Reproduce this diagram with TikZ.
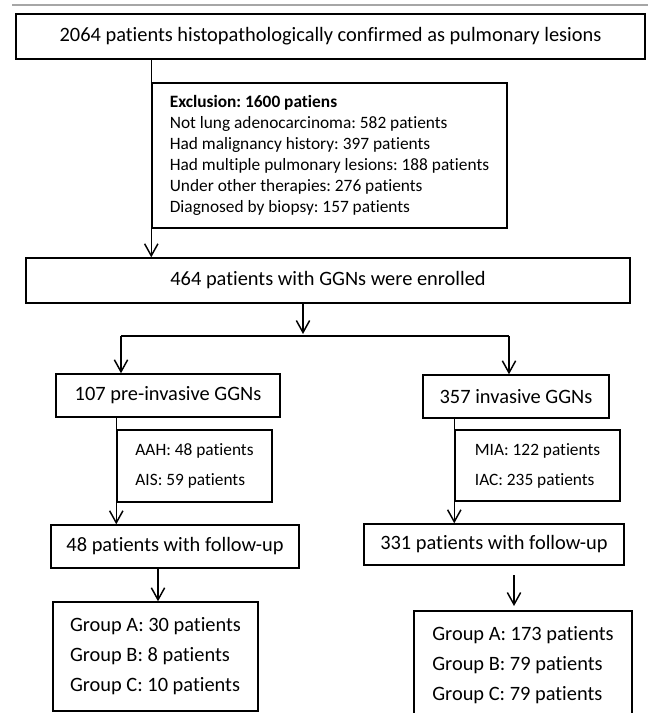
\documentclass[tikz,border=0pt]{standalone}
\usepackage{fontspec}
\setmainfont{Carlito}[Ligatures={NoCommon}]
\usetikzlibrary{arrows.meta}
\frenchspacing
\tikzset{
  boxsz/.style 2 args={minimum width=#1*0.75pt, minimum height=#2*0.75pt},
  boxstyle/.style={draw=black, line width=1.1pt, inner sep=0pt, font=\fontsize{15.3}{18}\selectfont},
  listbox/.style n args={3}{draw=black, line width=1.1pt, align=left, inner sep=0pt,
     minimum width=#1*0.75pt, minimum height=#2*0.75pt, font=#3},
  ln/.style={line width=1.1pt, draw=black},
  arr/.style={ln, -{Straight Barb[length=9pt,width=10pt,line width=1.1pt]}},
}
\newcommand{\bigf}{\fontsize{15.3}{22.5}\selectfont}
\newcommand{\smallf}{\fontsize{13}{22.5}\selectfont}
\newcommand{\exclf}{\fontsize{13}{15.75}\selectfont}
\begin{document}
\begin{tikzpicture}[x=0.75pt,y=-0.75pt]
\clip (0,0) rectangle (648,713);
\draw[color=black!35, line width=1.5pt] (12,5) -- (648,5);
% boxes
\node[boxstyle, boxsz={629}{45}] (T) at (330.5,36.5) {2064 patients histopathologically confirmed as pulmonary lesions};
\node[listbox={355}{145}{\exclf}] (E) at (329.5,155.5) {\textbf{Exclusion: 1600 patiens}\\Not lung adenocarcinoma: 582 patients\\Had malignancy history: 397 patients\\Had multiple pulmonary lesions: 188 patients\\Under other therapies: 276 patients\\Diagnosed by biopsy: 157 patients};
\node[boxstyle, boxsz={604}{45}] (B) at (328,280.5) {464 patients with GGNs were enrolled};
\node[boxstyle, boxsz={224}{43}] (P) at (168,395.5) {107 pre-invasive GGNs};
\node[boxstyle, boxsz={186}{43}] (V) at (516,396.5) {357 invasive GGNs};
\node[listbox={155}{72}{\smallf}] (A) at (194.5,466) {AAH: 48 patients\\AIS: 59 patients};
\node[listbox={165}{71}{\smallf}] (M) at (537.5,465.5) {MIA: 122 patients\\IAC: 235 patients};
\node[boxstyle, boxsz={248}{43}] (F) at (175,546.5) {48 patients with follow-up};
\node[boxstyle, boxsz={260}{41}] (G) at (494,544.5) {331 patients with follow-up};
\node[listbox={205}{109}{\bigf}] (L) at (155.5,656.5) {Group A: 30 patients\\Group B: 8 patients\\Group C: 10 patients};
\node[listbox={218}{109}{\bigf}] (R) at (523,665.5) {Group A: 173 patients\\Group B: 79 patients\\Group C: 79 patients};
% connectors
\draw[arr] (E.west |- T.south) -- (E.west |- B.north);
\coordinate (jt) at (303,334);
\draw[arr] (jt |- B.south) -- (jt);
\coordinate (hl) at (121,336);
\coordinate (hr) at (509,336);
\draw[ln] (hl) -- (hr);
\draw[arr] (hl) -- (hl |- P.north);
\draw[arr] (hr) -- (hr |- V.north);
\draw[arr] (A.west |- P.south) -- (A.west |- F.north);
\draw[arr] (M.west |- V.south) -- (M.west |- G.north);
\coordinate (fa) at (158,0);
\draw[arr] (fa |- F.south) -- (fa |- L.north);
\coordinate (ga) at (514,575);
\coordinate (gb) at (514,606);
\draw[arr] (ga) -- (gb);
\end{tikzpicture}
\end{document}
